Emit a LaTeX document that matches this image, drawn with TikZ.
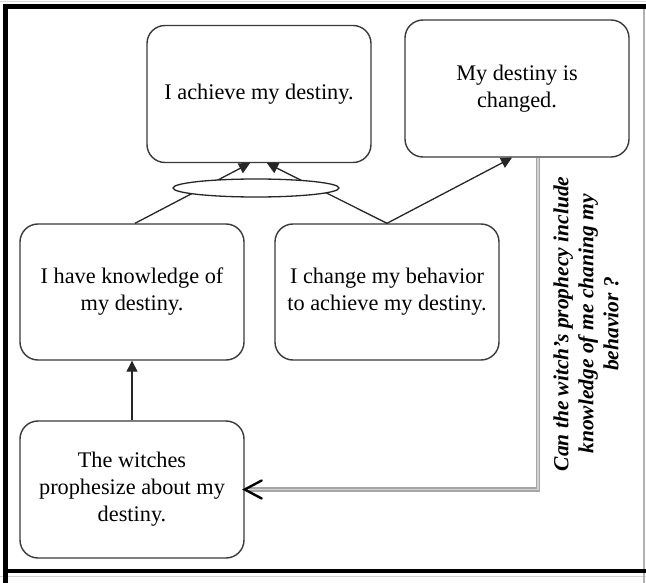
\documentclass[tikz,border=0pt]{standalone}
\usepackage{fontspec}
\setmainfont{Liberation Serif}
\usetikzlibrary{arrows.meta,shapes.geometric}
\definecolor{boxline}{HTML}{3A3A3A}
\tikzset{
  box/.style={draw=boxline, line width=1.4pt, rounded corners=18pt, fill=white,
    minimum width=224pt, minimum height=137pt, align=center, inner sep=0pt,
    font=\fontsize{22.3}{27}\selectfont},
  arr/.style={draw=black!85, line width=1.3pt, -{Triangle[length=11pt,width=11pt]}},
  grayline/.style={draw=gray!70, double=gray!35, double distance=1.8pt, line width=1.4pt},
  frame/.style={line width=5pt, draw=black}
}
\begin{document}
\begin{tikzpicture}[x=1pt,y=-1pt]
\useasboundingbox (0,0) rectangle (646,583);
\fill[white] (0,0) rectangle (646,583);
% frame
\draw[gray!30, line width=1.5pt] (0,1.5) -- (646,1.5);
\draw[gray!35, line width=1pt] (0,576) -- (646,576);
\draw[gray!60, line width=1.2pt] (644,8) -- (644,583);
\draw[frame] (646,6.5) -- (3,6.5);
\draw[frame] (5.5,4) -- (5.5,583);
\draw[line width=4pt] (3,571) -- (646,571);
% boxes
\node[box] (A) at (259,94) {I achieve my destiny.};
\node[box] (B) at (517,88.5) {My destiny is\\changed.};
\node[box, minimum height=136pt] (C) at (132,292) {I have knowledge of\\my destiny.};
\node[box, minimum height=136pt] (D) at (387,292) {I change my behavior\\to achieve my destiny.};
\node[box] (E) at (132,489.5) {The witches\\prophesize about my\\destiny.};
% connectors
\draw[arr] ([xshift=3pt]C.north) -- ([xshift=-9pt]A.south);
\draw[arr] (D.north) -- ([xshift=8pt]A.south);
\draw[arr] (D.north) -- ([xshift=-5pt]B.south);
\node[ellipse, draw=black!85, line width=1.3pt, fill=white, minimum width=166pt, minimum height=18pt, inner sep=0pt] (ell) at (256,188) {};
\draw[arr] (E.north) -- (C.south);
% gray feedback connector
\draw[grayline] ([xshift=21pt]B.south) |- ([xshift=4pt]E.east);
\draw[black, line width=2.4pt, line join=miter, line cap=round] ([shift={(17,-9)}]E.east) -- (E.east) -- ([shift={(17,9)}]E.east);
% rotated question
\node[rotate=90, align=center, font=\fontsize{21.5}{25}\selectfont\bfseries\itshape] (Q) at (586,324)
  {Can the witch's prophecy include\\knowledge of me chaning my\\behavior ?};
\end{tikzpicture}
\end{document}
